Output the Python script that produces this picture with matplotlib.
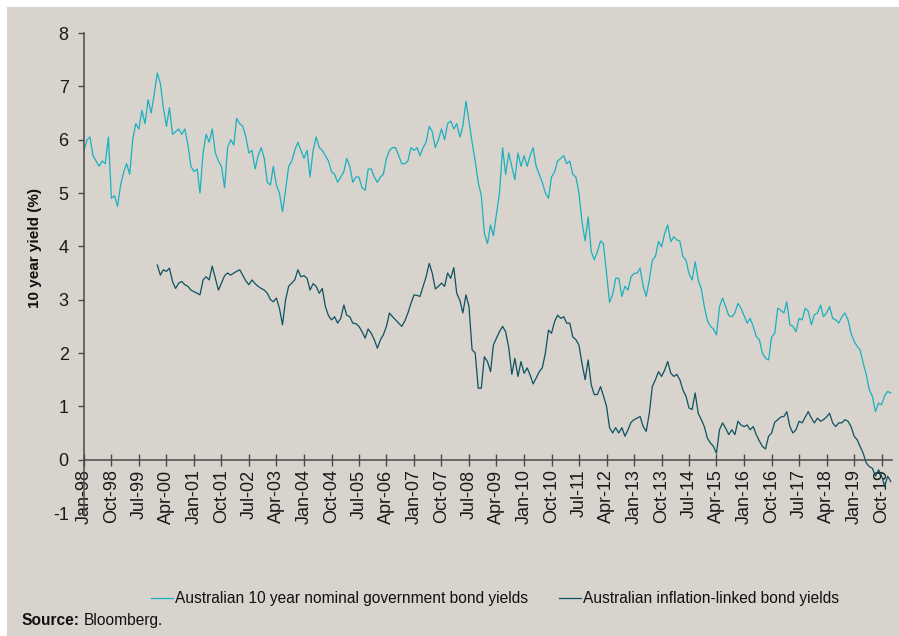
import numpy as np
import pandas as pd
import matplotlib
matplotlib.use("Agg")
import matplotlib.pyplot as plt
from matplotlib.patches import Rectangle

plt.rcParams['font.family'] = ['Liberation Sans', 'DejaVu Sans']

# Australian 10 year nominal government bond yields, monthly from Jan-98
nominal = [
    5.80, 6.00, 6.05, 5.70, 5.60, 5.50, 5.60, 5.55, 6.05, 4.90, 4.95, 4.75,   # 1998
    5.15, 5.40, 5.55, 5.35, 6.00, 6.30, 6.20, 6.55, 6.30, 6.75, 6.50, 6.85,   # 1999
    7.25, 7.05, 6.60, 6.25, 6.60, 6.10, 6.15, 6.20, 6.10, 6.20, 5.90, 5.50,   # 2000
    5.40, 5.45, 5.00, 5.75, 6.10, 5.95, 6.20, 5.75, 5.60, 5.50, 5.10, 5.85,   # 2001
    6.00, 5.90, 6.40, 6.30, 6.25, 6.05, 5.75, 5.80, 5.45, 5.70, 5.85, 5.65,   # 2002
    5.20, 5.15, 5.50, 5.15, 5.00, 4.65, 5.05, 5.50, 5.60, 5.80, 5.95, 5.80,   # 2003
    5.65, 5.80, 5.30, 5.80, 6.05, 5.85, 5.80, 5.70, 5.60, 5.40, 5.35, 5.20,   # 2004
    5.30, 5.40, 5.65, 5.50, 5.20, 5.30, 5.30, 5.10, 5.05, 5.45, 5.45, 5.30,   # 2005
    5.20, 5.30, 5.35, 5.65, 5.80, 5.85, 5.85, 5.70, 5.55, 5.55, 5.60, 5.85,   # 2006
    5.80, 5.85, 5.70, 5.85, 5.95, 6.25, 6.15, 5.85, 6.00, 6.20, 6.00, 6.30,   # 2007
    6.35, 6.20, 6.30, 6.05, 6.25, 6.72, 6.35, 5.95, 5.60, 5.20, 4.95, 4.25,   # 2008
    4.05, 4.40, 4.20, 4.60, 5.00, 5.85, 5.35, 5.75, 5.50, 5.25, 5.75, 5.50,   # 2009
    5.70, 5.50, 5.70, 5.85, 5.50, 5.35, 5.20, 5.00, 4.90, 5.30, 5.40, 5.60,   # 2010
    5.65, 5.70, 5.55, 5.60, 5.35, 5.30, 5.00, 4.45, 4.10, 4.55, 3.90, 3.75,   # 2011
    3.90, 4.10, 4.05, 3.50, 2.95, 3.10, 3.40, 3.40, 3.06, 3.25, 3.18, 3.43,   # 2012
    3.49, 3.50, 3.59, 3.25, 3.06, 3.37, 3.74, 3.81, 4.09, 3.99, 4.24, 4.40,   # 2013
    4.09, 4.18, 4.12, 4.10, 3.81, 3.74, 3.49, 3.37, 3.71, 3.37, 3.20, 2.87,   # 2014
    2.60, 2.50, 2.45, 2.34, 2.87, 3.03, 2.87, 2.70, 2.68, 2.75, 2.93, 2.84,   # 2015
    2.70, 2.56, 2.65, 2.50, 2.31, 2.25, 2.00, 1.90, 1.87, 2.30, 2.37, 2.84,   # 2016
    2.80, 2.75, 2.96, 2.53, 2.50, 2.40, 2.65, 2.62, 2.84, 2.78, 2.53, 2.72,   # 2017
    2.75, 2.90, 2.68, 2.75, 2.87, 2.65, 2.62, 2.56, 2.68, 2.75, 2.62, 2.37,   # 2018
    2.22, 2.12, 2.06, 1.81, 1.60, 1.31, 1.19, 0.90, 1.06, 1.03, 1.20, 1.28,   # 2019
    1.25,                                                                     # 2020
]

# Australian inflation-linked bond yields, monthly from Jan-00
inflation = [
    3.65, 3.46, 3.56, 3.53, 3.59, 3.34, 3.21, 3.31, 3.34, 3.28, 3.25, 3.18,   # 2000
    3.15, 3.12, 3.09, 3.37, 3.43, 3.37, 3.63, 3.40, 3.18, 3.31, 3.45, 3.50,   # 2001
    3.46, 3.50, 3.53, 3.56, 3.46, 3.35, 3.28, 3.37, 3.30, 3.25, 3.21, 3.18,   # 2002
    3.12, 3.00, 2.96, 3.03, 2.84, 2.53, 2.99, 3.25, 3.31, 3.37, 3.56, 3.43,   # 2003
    3.45, 3.40, 3.18, 3.30, 3.25, 3.12, 3.21, 2.87, 2.70, 2.62, 2.68, 2.56,   # 2004
    2.65, 2.90, 2.71, 2.68, 2.56, 2.55, 2.50, 2.40, 2.28, 2.45, 2.37, 2.25,   # 2005
    2.09, 2.25, 2.34, 2.50, 2.75, 2.68, 2.62, 2.56, 2.50, 2.60, 2.75, 2.93,   # 2006
    3.09, 3.08, 3.06, 3.25, 3.43, 3.68, 3.50, 3.20, 3.25, 3.31, 3.25, 3.50,   # 2007
    3.40, 3.60, 3.12, 2.99, 2.75, 3.09, 2.87, 2.06, 2.00, 1.34, 1.34, 1.93,   # 2008
    1.84, 1.65, 2.15, 2.28, 2.40, 2.50, 2.40, 2.10, 1.60, 1.90, 1.56, 1.84,   # 2009
    1.62, 1.72, 1.59, 1.42, 1.53, 1.65, 1.72, 2.00, 2.43, 2.37, 2.59, 2.71,   # 2010
    2.65, 2.68, 2.56, 2.56, 2.30, 2.25, 2.15, 1.80, 1.50, 1.87, 1.40, 1.22,   # 2011
    1.22, 1.37, 1.20, 1.00, 0.60, 0.50, 0.60, 0.50, 0.60, 0.44, 0.56, 0.70,   # 2012
    0.75, 0.78, 0.81, 0.62, 0.53, 0.87, 1.37, 1.50, 1.65, 1.56, 1.68, 1.84,   # 2013
    1.62, 1.56, 1.60, 1.50, 1.31, 1.19, 0.97, 0.94, 1.25, 0.87, 0.75, 0.62,   # 2014
    0.40, 0.31, 0.25, 0.12, 0.56, 0.69, 0.59, 0.47, 0.56, 0.47, 0.72, 0.65,   # 2015
    0.62, 0.65, 0.56, 0.62, 0.47, 0.35, 0.25, 0.20, 0.44, 0.50, 0.70, 0.75,   # 2016
    0.80, 0.81, 0.90, 0.62, 0.50, 0.56, 0.72, 0.69, 0.80, 0.90, 0.78, 0.69,   # 2017
    0.78, 0.72, 0.75, 0.80, 0.87, 0.69, 0.62, 0.69, 0.69, 0.75, 0.72, 0.62,   # 2018
    0.44, 0.37, 0.25, 0.12, -0.06, -0.13, -0.16, -0.31, -0.19, -0.30, -0.50, -0.31,  # 2019
    -0.41,                                                                    # 2020
]

series_labels = ["Australian 10 year nominal government bond yields",
                 "Australian inflation-linked bond yields"]
y_ticks = [-1, 0, 1, 2, 3, 4, 5, 6, 7, 8]
x_tick_labels = ["Jan-98", "Oct-98", "Jul-99", "Apr-00", "Jan-01", "Oct-01", "Jul-02",
                 "Apr-03", "Jan-04", "Oct-04", "Jul-05", "Apr-06", "Jan-07", "Oct-07",
                 "Jul-08", "Apr-09", "Jan-10", "Oct-10", "Jul-11", "Apr-12", "Jan-13",
                 "Oct-13", "Jul-14", "Apr-15", "Jan-16", "Oct-16", "Jul-17", "Apr-18",
                 "Jan-19", "Oct-19"]

nom_dates = pd.date_range("1998-01-01", periods=len(nominal), freq="MS")
inf_dates = pd.date_range("2000-01-01", periods=len(inflation), freq="MS")
tick_dates = pd.to_datetime(x_tick_labels, format="%b-%y")

BG = "#d8d3cd"
C_NOM = "#19b1bf"
C_INF = "#0c5361"
AX = "#4a4a4a"

fig = plt.figure(figsize=(8.99, 6.36), dpi=100)
fig.patch.set_facecolor("white")
fig.add_artist(Rectangle((7 / 899, 0), 892 / 899, 629 / 636, transform=fig.transFigure,
                         facecolor=BG, edgecolor="none", zorder=0))

ax = fig.add_axes([84 / 899, (636 - 513) / 636, (892 - 84) / 899, (513 - 33) / 636])
ax.patch.set_alpha(0)

ax.plot(nom_dates, nominal, color=C_NOM, lw=0.9, label=series_labels[0])
ax.plot(inf_dates, inflation, color=C_INF, lw=0.9, label=series_labels[1])

ax.set_ylim(-1, 8)
ax.set_xlim(pd.Timestamp("1998-01-01"), pd.Timestamp("2020-01-13"))

for s in ["top", "right"]:
    ax.spines[s].set_visible(False)
ax.spines["bottom"].set_position(("data", 0))
ax.spines["left"].set_position(("data", ax.get_xlim()[0]))
for s in ["bottom", "left"]:
    ax.spines[s].set_color(AX)
    ax.spines[s].set_linewidth(1.1)

ax.set_yticks(y_ticks)
ax.set_yticklabels([str(v) for v in y_ticks])
ax.set_xticks(tick_dates)
ax.set_xticklabels(x_tick_labels)

ax.tick_params(axis="y", direction="out", length=4, width=1, color=AX,
               labelsize=13, pad=7, labelcolor="#1a1a1a")
ax.tick_params(axis="x", direction="inout", length=8, width=1, color=AX,
               labelsize=13, pad=3, labelcolor="#1a1a1a", labelrotation=90)

fig.text(35 / 899, (636 - 248) / 636, "10 year yield (%)", rotation=90,
         ha="center", va="center", fontsize=11, fontweight="bold", color="#111111")

leg = fig.legend(loc="center", bbox_to_anchor=(495 / 899, (636 - 599) / 636), ncol=2,
                 frameon=False, fontsize=11.2, handlelength=1.4, handletextpad=0.15,
                 columnspacing=2.0)
for t in leg.get_texts():
    t.set_color("#111111")

src = fig.text(22 / 899, (636 - 625) / 636, "Source:", ha="left", va="baseline",
               fontsize=11.2, fontweight="bold", color="#111111")
fig.canvas.draw()
bb = src.get_window_extent(renderer=fig.canvas.get_renderer())
fig.text((bb.x1 + 4) / fig.bbox.width, (636 - 625) / 636, "Bloomberg.", ha="left",
         va="baseline", fontsize=11.2, color="#111111")

fig.savefig("out.png", dpi=100, facecolor=fig.get_facecolor())
